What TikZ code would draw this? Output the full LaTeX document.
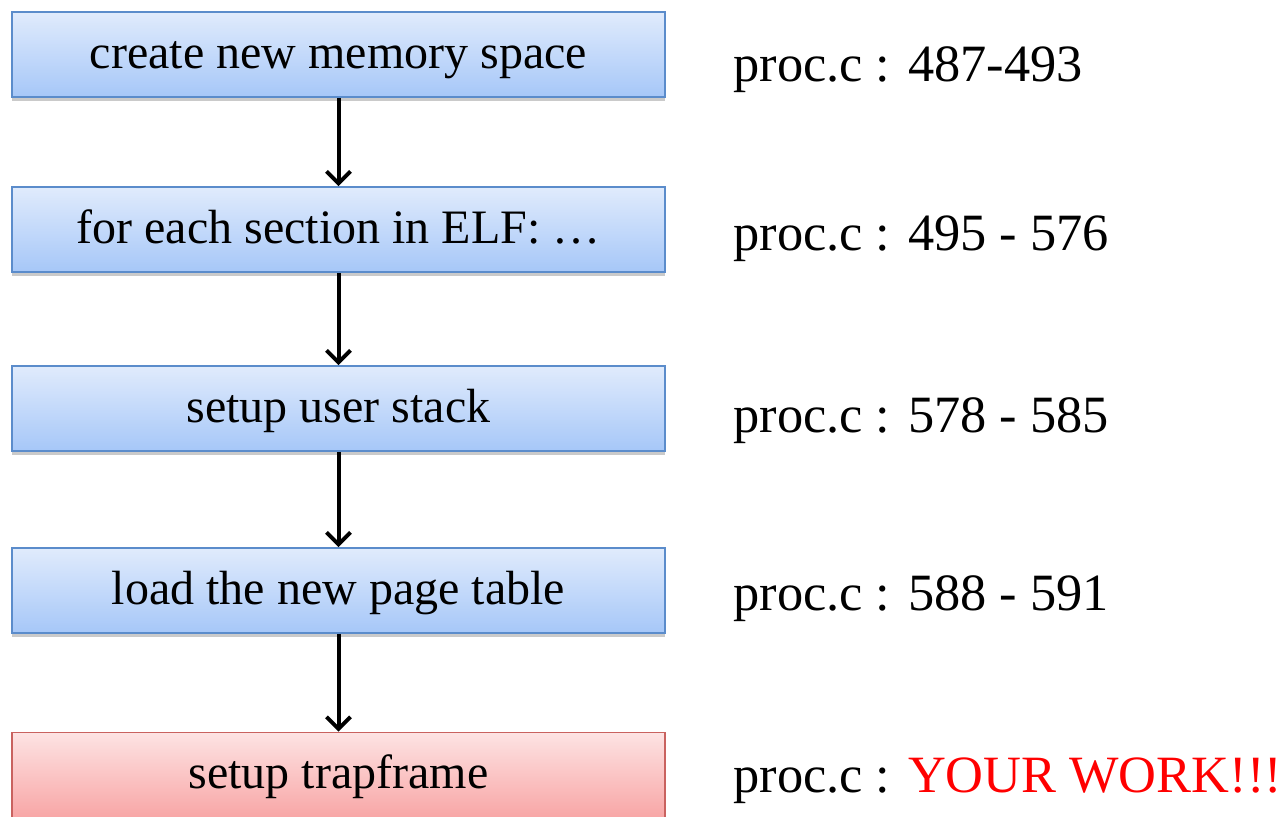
\documentclass[tikz,border=0pt]{standalone}
\usepackage{fontspec}
\setmainfont{Liberation Serif}
\usetikzlibrary{arrows.meta,shadows}
\definecolor{bluetop}{HTML}{E0EBFC}
\definecolor{bluebot}{HTML}{A6C7F8}
\definecolor{blueedge}{HTML}{5B8CCB}
\definecolor{redtop}{HTML}{FDE3E3}
\definecolor{redbot}{HTML}{F8A6A6}
\definecolor{rededge}{HTML}{C9625F}
\tikzset{
  stepbox/.style={rectangle, minimum width=326.5pt, minimum height=42.5pt,
    line width=0.8pt, inner sep=0pt, text height=17.5pt, text depth=4pt,
    font=\fontsize{24}{29}\selectfont,
    drop shadow={shadow xshift=0pt, shadow yshift=-2pt, opacity=0.35, fill=black!60}},
  bluebox/.style={stepbox, draw=blueedge, top color=bluetop, bottom color=bluebot},
  redbox/.style={stepbox, draw=rededge, top color=redtop, bottom color=redbot},
  ref/.style={anchor=base west, inner sep=0pt, font=\fontsize{26.2}{31}\selectfont},
  flow/.style={line width=2pt, -{Straight Barb[length=6pt,width=12pt,line width=2pt]}}
}
\begin{document}
\begin{tikzpicture}[x=0.5pt,y=-0.5pt]
\useasboundingbox (0,0) rectangle (1288,816);
\begin{scope}
\clip (0,0) rectangle (1288,816);
\node[bluebox] (s1) at (338.5,54.5) {create new memory space};
\node[bluebox] (s2) at (338.5,229.5) {for each section in ELF: …};
\node[bluebox] (s3) at (338.5,408.5) {setup user stack};
\node[bluebox] (s4) at (338.5,590.5) {load the new page table};
\node[redbox] (s5) at (338.5,775) {setup trapframe};
\end{scope}

\draw[flow] (s1) -- (s2);
\draw[flow] (s2) -- (s3);
\draw[flow] (s3) -- (s4);
\draw[flow] (s4) -- (s5);

\node[ref] (r1) at (733,81) {proc.c : 487-493};
\node[ref] (r2) at (733,250) {proc.c : 495 - 576};
\node[ref] (r3) at (733,432) {proc.c : 578 - 585};
\node[ref] (r4) at (733,610) {proc.c : 588 - 591};
\node[ref] (r5) at (733,792) {proc.c : \textcolor{red}{YOUR WORK!!!}};
\end{tikzpicture}
\end{document}
